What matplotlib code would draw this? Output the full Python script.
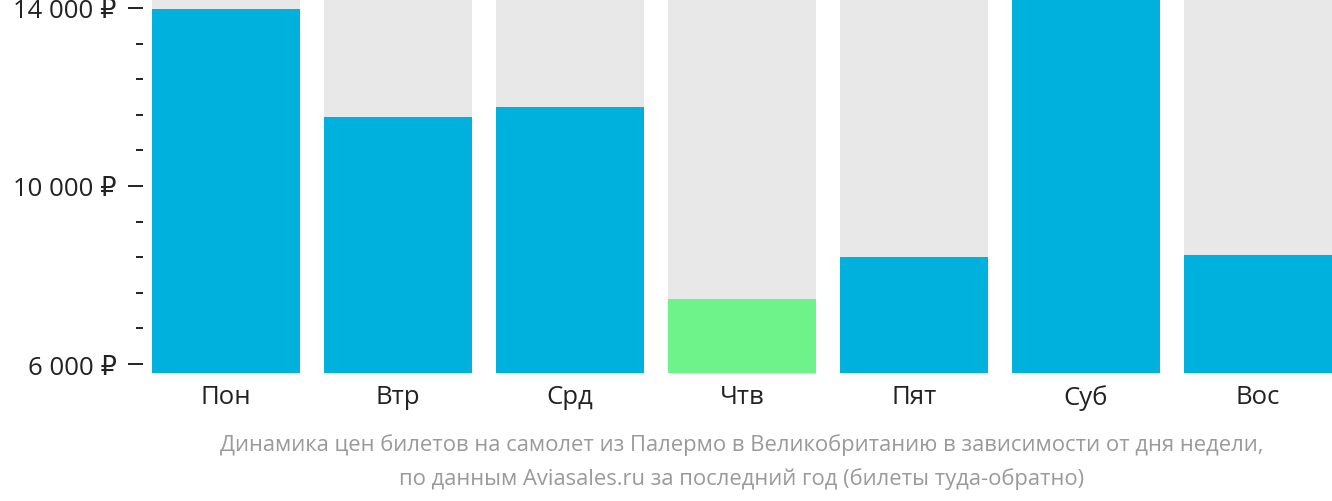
import numpy as np
import matplotlib.pyplot as plt
from matplotlib.ticker import FixedLocator, FuncFormatter

plt.rcParams['font.family'] = ['Open Sans', 'DejaVu Sans']

days = ['Пон', 'Втр', 'Срд', 'Чтв', 'Пят', 'Суб', 'Вос']
prices = [13980, 11545, 11770, 7468, 8414, 14300, 8459]
cheapest = 'Чтв'

major_ticks = [6000, 10000, 14000]
minor_step = 800

caption = ('Динамика цен билетов на самолет из Палермо в Великобританию в зависимости от дня недели,\n'
           'по данным Aviasales.ru за последний год (билеты туда-обратно)')

ymin, ymax = 5800, 14200

fig = plt.figure(figsize=(13.32, 5.02), dpi=100)
ax = fig.add_axes([152 / 1332, 1 - 374 / 502, 1180 / 1332, 374 / 502])

x = np.arange(len(days))
width = 0.86
colors = ['#6ef28a' if d == cheapest else '#00b1dd' for d in days]

# grey backdrop for every day, then the price bar on top
ax.bar(x, ymax - ymin, bottom=ymin, width=width, color='#e8e8e8')
ax.bar(x, np.array(prices) - ymin, bottom=ymin, width=width, color=colors)

ax.set_xlim(-width / 2, len(days) - 1 + width / 2)
ax.set_ylim(ymin, ymax)

for s in ax.spines.values():
    s.set_visible(False)
ax.spines['left'].set_position(('outward', 6.5))

ax.yaxis.set_major_locator(FixedLocator(major_ticks))
minor = [v for v in np.arange(major_ticks[0], major_ticks[-1], minor_step) if v not in major_ticks]
ax.yaxis.set_minor_locator(FixedLocator(minor))
ax.yaxis.set_major_formatter(FuncFormatter(lambda v, p: f'{int(v):,}'.replace(',', ' ') + ' ₽'))
ax.tick_params(axis='y', which='major', length=11, width=1.4, pad=8,
               labelsize=18.5, colors='#222222')
ax.tick_params(axis='y', which='minor', length=5, width=1.4, colors='#222222')

ax.set_xticks(x)
ax.set_xticklabels(days)
ax.tick_params(axis='x', length=0, pad=8, labelsize=18.5, labelcolor='#222222')

fig.text(742 / 1332, 1 - 462 / 502, caption, ha='center', va='center',
         fontsize=15.85, color='#9a9a9a', linespacing=1.7)

fig.savefig('out.png', dpi=100)
